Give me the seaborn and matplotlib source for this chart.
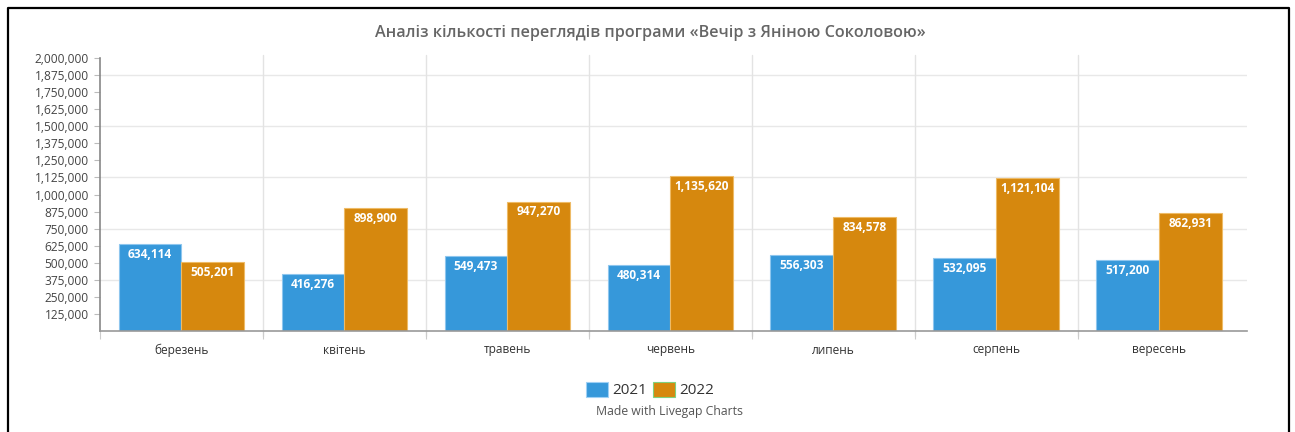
import matplotlib
matplotlib.use("Agg")
import matplotlib.pyplot as plt
import seaborn as sns
import pandas as pd
import numpy as np
from matplotlib.lines import Line2D
from matplotlib.patches import Patch

months = ["березень", "квітень", "травень", "червень", "липень", "серпень", "вересень"]
views_2021 = [634114, 416276, 549473, 480314, 556303, 532095, 517200]
views_2022 = [505201, 898900, 947270, 1135620, 834578, 1121104, 862931]
series = ["2021", "2022"]
title = "Аналіз кількості переглядів програми «Вечір з Яніною Соколовою»"
y_ticks = list(range(125000, 2000001, 125000))
grid_vals = [375000, 750000, 1125000, 1500000, 1875000]

BLUE = "#3698da"
ORANGE = "#d6880e"

df = pd.DataFrame({
    "month": months * 2,
    "year": [series[0]] * len(months) + [series[1]] * len(months),
    "views": views_2021 + views_2022,
})

sns.set_theme(style="white")
plt.rcParams["font.family"] = ["Open Sans", "DejaVu Sans"]

fig = plt.figure(figsize=(12.95, 4.32), dpi=100)
W, H = 1295, 432
left, right, bottom, top = 100 / W, 1247 / W, 1 - 331 / H, 1 - 58 / H
ax = fig.add_axes([left, bottom, right - left, top - bottom])

sns.barplot(data=df, x="month", y="views", hue="year", order=months,
            hue_order=series, palette=[BLUE, ORANGE], width=0.77, gap=0,
            saturation=1, ax=ax, legend=False, linewidth=0.8)

edge_cols = {BLUE: "#8ec6ee", ORANGE: "#eebb66"}
for cont, col in zip(ax.containers, [BLUE, ORANGE]):
    for p in cont:
        p.set_edgecolor(edge_cols[col])
    ax.bar_label(cont, labels=[f"{int(v):,}" for v in cont.datavalues],
                 padding=-12, color="white", fontsize=8.6, fontweight="bold")

ax.set_xlim(-0.5, 6.54)
ax.set_ylim(0, 2000000)
ax.set_yticks(y_ticks)
ax.set_yticklabels([f"{v:,}" for v in y_ticks], fontsize=8.6, color="#444444")
ax.tick_params(axis="y", which="major", left=True, length=4, width=0.8,
               color="#bbbbbb", pad=4)
ax.set_xticks(range(len(months)))
ax.set_xticklabels(months, fontsize=8.6, color="#333333")
ax.tick_params(axis="x", which="major", bottom=False, length=0, pad=9)
ax.set_xticks(np.arange(-0.5, 6.0, 1.0), minor=True)
ax.tick_params(axis="x", which="minor", bottom=True, length=6, width=0.8,
               color="#cccccc")
ax.set_xlabel("")
ax.set_ylabel("")

for v in grid_vals:
    ax.axhline(v, color="#e8e8e8", lw=1, zorder=0)
for xb in np.arange(0.5, 6.0, 1.0):
    ax.axvline(xb, color="#e3e3e3", lw=1, zorder=0, ymin=-0.02, ymax=1.01,
               clip_on=False)

for s in ["top", "right"]:
    ax.spines[s].set_visible(False)
ax.spines["left"].set_color("#888888")
ax.spines["left"].set_linewidth(1.2)
ax.spines["left"].set_bounds(0, 2000000)
ax.spines["bottom"].set_color("#999999")
ax.spines["bottom"].set_linewidth(1.2)

fig.text(0.502, 1 - 33 / H, title, ha="center", va="center",
         fontsize=11.6, color="#666666", fontweight="semibold")

handles = [Patch(facecolor=BLUE, edgecolor="#9fd0f5", lw=0.8),
           Patch(facecolor=ORANGE, edgecolor="#7fd17f", lw=0.8)]
fig.legend(handles, series, loc="center", bbox_to_anchor=(0.502, 1 - 390 / H),
           ncol=2, frameon=False, fontsize=11, handlelength=1.4,
           handleheight=1.2, handletextpad=0.3, columnspacing=0.4,
           labelcolor="#333333")
fig.text(0.517, 1 - 411 / H, "Made with Livegap Charts", ha="center",
         va="center", fontsize=8.8, color="#555555")

# outer frame
fx0, fx1, fy1 = 7.5 / W, 1288.5 / W, 1 - 7.5 / H
fig.add_artist(Line2D([fx0, fx0, fx1, fx1], [0, fy1, fy1, 0],
                      color="black", lw=1.6, transform=fig.transFigure))

fig.savefig("out.png", dpi=100)
